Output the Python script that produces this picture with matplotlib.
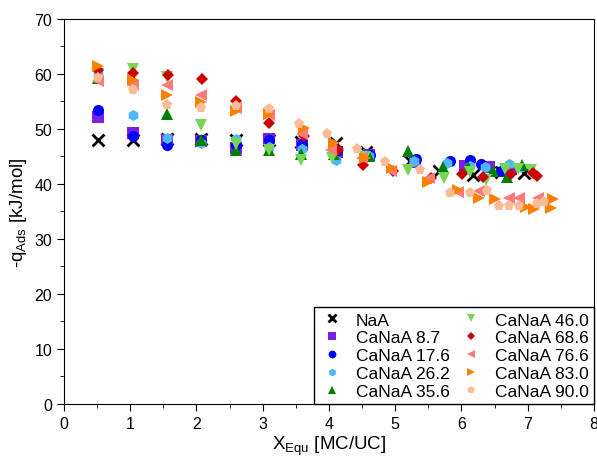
import numpy as np
import matplotlib.pyplot as plt
from matplotlib.ticker import MultipleLocator

plt.rcParams['font.family'] = ['Liberation Sans', 'DejaVu Sans']
plt.rcParams['mathtext.fontset'] = 'custom'
plt.rcParams['mathtext.rm'] = 'Liberation Sans'

# data
naa_x = [0.52, 1.04, 1.56, 2.07, 2.59, 3.09, 3.58, 4.1, 4.56, 5.22, 5.66, 6.18, 6.59, 6.95]
naa_y = [47.9, 47.9, 48.1, 48.1, 48.0, 48.0, 47.6, 47.5, 45.7, 44.2, 42.3, 41.6, 42.2, 42.0]

ca87_x = [0.52, 1.05, 1.55, 2.07, 2.6, 3.1, 3.6, 4.12, 4.6, 5.3, 6.05, 6.42, 6.75]
ca87_y = [52.1, 49.2, 48.0, 47.8, 46.5, 48.2, 47.0, 45.7, 45.2, 44.0, 43.2, 43.0, 42.6]

ca176_x = [0.52, 1.05, 1.55, 2.07, 2.6, 3.1, 3.6, 4.12, 4.62, 5.32, 5.82, 6.13, 6.3, 6.6]
ca176_y = [53.5, 48.7, 47.0, 48.0, 47.0, 47.9, 47.2, 45.9, 45.3, 44.5, 44.1, 44.3, 43.6, 42.4]

ca262_x = [0.52, 1.05, 1.55, 2.07, 2.6, 3.1, 3.6, 4.1, 4.6, 5.28, 5.78, 6.13, 6.35, 6.71, 6.9]
ca262_y = [60.3, 52.5, 48.3, 47.4, 48.2, 46.7, 46.4, 44.3, 45.0, 44.2, 43.8, 43.2, 43.0, 43.6, 43.1]

ca356_x = [0.52, 1.05, 1.55, 2.07, 2.6, 3.1, 3.58, 4.08, 4.6, 5.19, 5.72, 6.1, 6.48, 6.69, 6.92]
ca356_y = [59.3, 59.1, 52.7, 47.9, 46.1, 46.1, 45.4, 45.5, 45.0, 45.9, 43.1, 43.0, 42.4, 41.2, 43.5]

ca460_x = [0.52, 1.05, 1.55, 2.07, 2.6, 3.1, 3.58, 4.05, 4.55, 5.19, 5.74, 6.13, 6.37, 6.65, 6.85, 7.05]
ca460_y = [60.0, 60.8, 59.5, 50.7, 47.3, 46.1, 44.4, 44.6, 44.9, 42.5, 41.0, 42.1, 40.6, 42.6, 42.7, 42.5]

ca686_x = [0.52, 1.05, 1.57, 2.08, 2.6, 3.1, 3.62, 4.14, 4.51, 4.96, 5.54, 6.01, 6.33, 6.75, 7.08, 7.14]
ca686_y = [60.6, 60.2, 59.8, 59.0, 55.1, 51.1, 48.6, 46.2, 43.4, 42.3, 41.0, 41.8, 41.3, 41.8, 41.9, 41.4]

ca766_x = [0.52, 1.05, 1.55, 2.07, 2.6, 3.1, 3.6, 4.03, 4.5, 4.93, 5.51, 5.95, 6.27, 6.71, 6.87, 7.16]
ca766_y = [58.6, 58.0, 58.0, 56.2, 53.7, 52.5, 49.0, 46.1, 44.6, 42.3, 41.0, 38.5, 38.6, 37.4, 37.5, 37.5]

ca830_x = [0.52, 1.05, 1.55, 2.07, 2.6, 3.1, 3.62, 4.08, 4.54, 4.95, 5.5, 5.95, 6.27, 6.51, 6.97, 7.1, 7.35, 7.38]
ca830_y = [61.5, 58.8, 56.2, 54.8, 53.3, 52.7, 50.2, 47.5, 44.7, 42.8, 40.4, 38.9, 37.4, 37.3, 35.7, 35.5, 35.6, 37.3]

ca900_x = [0.52, 1.05, 1.55, 2.07, 2.6, 3.1, 3.55, 3.97, 4.43, 4.84, 5.38, 5.82, 6.13, 6.38, 6.56, 6.71, 6.87, 7.14, 7.24]
ca900_y = [59.2, 57.1, 54.4, 53.8, 54.2, 53.6, 50.9, 49.1, 46.3, 43.9, 42.5, 38.3, 38.3, 38.6, 36.0, 36.0, 36.0, 36.3, 36.6]

series = [
    ('NaA', naa_x, naa_y, 'x', 'black'),
    ('CaNaA 8.7', ca87_x, ca87_y, 's', '#7B1FE0'),
    ('CaNaA 17.6', ca176_x, ca176_y, 'o', '#0000FF'),
    ('CaNaA 26.2', ca262_x, ca262_y, 'h', '#4DB8FF'),
    ('CaNaA 35.6', ca356_x, ca356_y, '^', '#008000'),
    ('CaNaA 46.0', ca460_x, ca460_y, 'v', '#78D455'),
    ('CaNaA 68.6', ca686_x, ca686_y, 'D', '#CC0000'),
    ('CaNaA 76.6', ca766_x, ca766_y, '<', '#F87C7C'),
    ('CaNaA 83.0', ca830_x, ca830_y, '>', '#FF8000'),
    ('CaNaA 90.0', ca900_x, ca900_y, 'p', '#FFBA96'),
]

fig = plt.figure(figsize=(5.97, 4.6), dpi=100)
ax = fig.add_axes([0.107, 0.12, 0.888, 0.837])

for name, xs, ys, m, c in series:
    ms = 6.5 if m == 'D' else 8
    ax.plot(xs, ys, linestyle='none', marker=m, color=c, ms=ms,
            mew=2 if m == 'x' else 0, label=name)

ax.set_xlim(0, 8)
ax.set_ylim(0, 70)
ax.xaxis.set_major_locator(MultipleLocator(1))
ax.xaxis.set_minor_locator(MultipleLocator(0.5))
ax.yaxis.set_major_locator(MultipleLocator(10))
ax.yaxis.set_minor_locator(MultipleLocator(5))
ax.tick_params(which='both', direction='out', labelsize=11.5, top=False, right=False)
ax.tick_params(which='major', length=5)
ax.tick_params(which='minor', length=3)

ax.set_xlabel('X$_{\\mathrm{Equ}}$ [MC/UC]', fontsize=13.5, labelpad=2)
ax.set_ylabel('-q$_{\\mathrm{Ads}}$ [kJ/mol]', fontsize=13.5)

leg = ax.legend(loc='lower right', ncol=2, fontsize=12.5, frameon=True, fancybox=False,
                edgecolor='black', framealpha=1, borderaxespad=0, handletextpad=0.6,
                columnspacing=0.5, labelspacing=0.15, handlelength=1.5, markerscale=0.7,
                borderpad=0.3)
leg.get_frame().set_linewidth(1)

fig.savefig('out.png', dpi=100)
